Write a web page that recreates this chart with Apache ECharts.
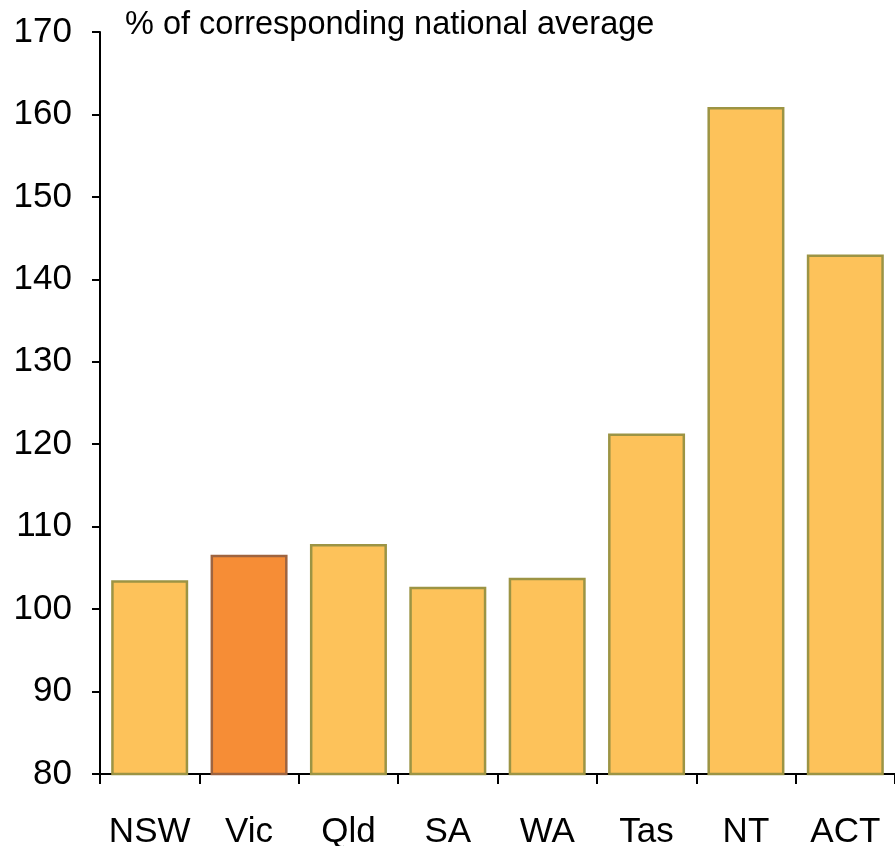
<!DOCTYPE html>
<html>
<head>
<meta charset="utf-8">
<script src="https://cdn.jsdelivr.net/npm/echarts@6/dist/echarts.min.js"></script>
<style>
    html, body { margin: 0; padding: 0; background: #fff; }
    #chart { width: 895px; height: 846px; }
</style>
</head>
<body>
<div id="chart"></div>
<script>
// states / territories
const categories = ['NSW', 'Vic', 'Qld', 'SA', 'WA', 'Tas', 'NT', 'ACT'];
// % of corresponding national average
const values = [103.5, 106.6, 107.9, 102.7, 103.8, 121.3, 160.9, 143.0];
const highlight = 'Vic';

const chart = echarts.init(document.getElementById('chart'));

const barData = categories.map(function (c, i) {
    if (c === highlight) {
        return {
            value: values[i],
            itemStyle: {color: '#F68D36', borderColor: '#9E6440'}
        };
    }
    return values[i];
});

chart.setOption({
    animation: false,
    textStyle: {fontFamily: 'Liberation Sans, Arial, sans-serif'},
    graphic: [{
        type: 'text',
        left: 125,
        top: 9,
        style: {
            text: '% of corresponding national average',
            font: '32.5px "Liberation Sans", Arial, sans-serif',
            fill: '#000'
        }
    }],
    grid: {left: 100, right: 0, top: 32, bottom: 72, containLabel: false, outerBoundsMode: 'none'},
    xAxis: {
        type: 'category',
        data: categories,
        axisLine: {lineStyle: {color: '#000', width: 2}},
        axisTick: {show: true, interval: 0, length: 10, lineStyle: {color: '#000', width: 2}},
        axisLabel: {color: '#000', fontSize: 35, margin: 41, interval: 0, hideOverlap: false}
    },
    yAxis: {
        type: 'value',
        min: 80,
        max: 170,
        interval: 10,
        axisLine: {show: true, lineStyle: {color: '#000', width: 2}},
        axisTick: {show: true, length: 8, lineStyle: {color: '#000', width: 2}},
        axisLabel: {color: '#000', fontSize: 35, margin: 28},
        splitLine: {show: false}
    },
    series: [{
        type: 'bar',
        data: barData,
        barWidth: 77,
        itemStyle: {color: '#FDC25A', borderColor: '#9C9444', borderWidth: 2.5}
    }]
});
</script>
</body>
</html>
